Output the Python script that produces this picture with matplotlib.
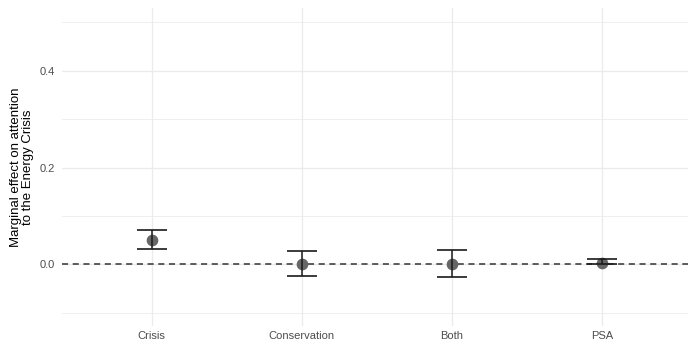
import matplotlib.pyplot as plt
from matplotlib.ticker import MultipleLocator

plt.rcParams["font.family"] = ["Liberation Sans", "DejaVu Sans"]

conditions = ["Crisis", "Conservation", "Both", "PSA"]
estimate = [0.051, 0.001, 0.001, 0.004]
ci_low = [0.032, -0.023, -0.025, 0.000]
ci_high = [0.072, 0.027, 0.029, 0.012]

W, H = 688, 342
fig = plt.figure(figsize=(W / 100, H / 100), dpi=100)
fig.patch.set_facecolor("white")

# panel in pixel coordinates (ggplot theme_minimal look)
left, right, top, bottom = 61.7, 691.7, 8.3, 325.5
ax = fig.add_axes([left / W, (H - bottom) / H, (right - left) / W, (bottom - top) / H])
ax.set_facecolor("white")

x = list(range(1, len(conditions) + 1))

# grid
ax.yaxis.set_major_locator(MultipleLocator(0.2))
ax.yaxis.set_minor_locator(MultipleLocator(0.1))
ax.grid(which="major", axis="both", color="#EBEBEB", linewidth=0.9, zorder=0)
ax.grid(which="minor", axis="y", color="#EBEBEB", linewidth=0.55, zorder=0)

# reference line
ax.axhline(0, color="#333333", linestyle=(0, (4, 3)), linewidth=1.1, zorder=2)

# points and error bars
ax.plot(x, estimate, "o", color="#666666", markersize=7.4, zorder=3)
yerr = [[e - l for e, l in zip(estimate, ci_low)], [h - e for e, h in zip(estimate, ci_high)]]
ax.errorbar(x, estimate, yerr=yerr, fmt="none", ecolor="#1a1a1a", elinewidth=1.1,
            capsize=11, capthick=1.2, zorder=4)

ax.set_xlim(0.4, 4.6)
ax.set_ylim(-0.126, 0.529)
ax.set_xticks(x)
ax.set_xticklabels(conditions)
ax.set_yticks([0.0, 0.2, 0.4])
ax.set_yticklabels(["0.0", "0.2", "0.4"])

ax.tick_params(axis="both", which="both", length=0, labelsize=8, labelcolor="#4D4D4D")
ax.tick_params(axis="x", pad=4)
ax.tick_params(axis="y", pad=5)
for s in ax.spines.values():
    s.set_visible(False)

ax.set_ylabel("Marginal effect on attention\nto the Energy Crisis", fontsize=9.5,
              color="black", labelpad=4, linespacing=1.0)

fig.savefig("out.png", dpi=100, facecolor="white")
